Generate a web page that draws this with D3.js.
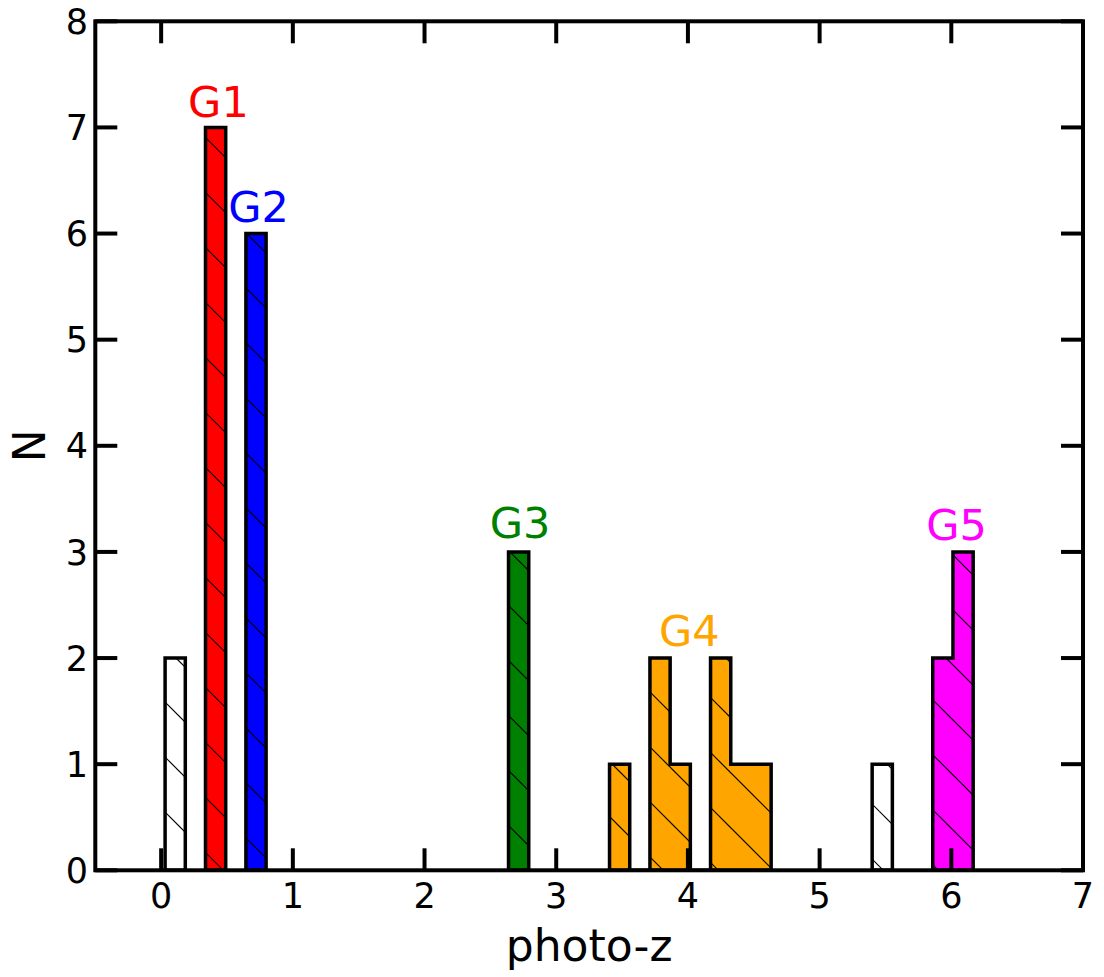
<!DOCTYPE html>
<html>
<head>
<meta charset="utf-8">
<script src="https://cdn.jsdelivr.net/npm/d3@7"></script>
<style>
  html, body { margin: 0; padding: 0; background: #fff; }
  svg { display: block; }
  text { font-family: "DejaVu Sans", sans-serif; }
</style>
</head>
<body>
<svg id="chart" width="1104" height="977"></svg>
<script>
// Histogram binning of photometric redshifts
const binStart = 0.03;
const binWidth = 0.1534;

// Each series: the bin indices it occupies and the counts in those bins
const seriesBins   = [[0], [2], [4], [17], [22, 23, 24, 25, 26, 27, 28, 29], [35], [38, 39]];
const seriesCounts = [[2], [7], [6], [3],  [1, 0, 2, 1, 0, 2, 1, 1],          [1],  [2, 3]];
const seriesColors = ["#ffffff", "#ff0000", "#0000ff", "#008000", "#ffa500", "#ffffff", "#ff00ff"];

// Group labels (data coordinates of the text baseline centre)
const groupNames  = ["G1", "G2", "G3", "G4", "G5"];
const groupColors = ["#ff0000", "#0000ff", "#008000", "#ffa500", "#ff00ff"];
const groupLabelX = [0.435, 0.74, 2.725, 4.01, 6.04];
const groupLabelY = [7.1, 6.11, 3.13, 2.11, 3.11];

const xTicks = [0, 1, 2, 3, 4, 5, 6, 7];
const yTicks = [0, 1, 2, 3, 4, 5, 6, 7, 8];

const svg = d3.select("#chart");
const plot = { left: 95.3, right: 1083, top: 21.3, bottom: 870.3 };

const x = d3.scaleLinear().domain([-0.5, 7]).range([plot.left, plot.right]);
const y = d3.scaleLinear().domain([0, 8]).range([plot.bottom, plot.top]);

svg.append("rect").attr("width", 1104).attr("height", 977).attr("fill", "#fff");

// Diagonal hatch, tiled in page coordinates
const defs = svg.append("defs");
const pat = defs.append("pattern")
  .attr("id", "hatch")
  .attr("patternUnits", "userSpaceOnUse")
  .attr("x", 0).attr("y", 0)
  .attr("width", 55).attr("height", 55);
[[-5, 37, 20, 62], [-5, -18, 70, 57]].forEach(([x1, y1, x2, y2]) => {
  pat.append("line")
    .attr("x1", x1).attr("y1", y1).attr("x2", x2).attr("y2", y2)
    .attr("stroke", "#000").attr("stroke-width", 1.2);
});

// Step outline for a run of consecutive bins
function stepPoints(bins, counts) {
  const pts = [];
  const edge = i => binStart + i * binWidth;
  pts.push([edge(bins[0]), 0]);
  bins.forEach((b, i) => {
    pts.push([edge(b), counts[i]]);
    pts.push([edge(b + 1), counts[i]]);
  });
  pts.push([edge(bins[bins.length - 1] + 1), 0]);
  return pts;
}
const line = d3.line().x(d => x(d[0])).y(d => y(d[1]));

const bars = svg.append("g");
seriesBins.forEach((bins, i) => {
  const d = line(stepPoints(bins, seriesCounts[i])) + "Z";
  bars.append("path").attr("d", d).attr("fill", seriesColors[i]);
  bars.append("path").attr("d", d).attr("fill", "url(#hatch)");
  bars.append("path").attr("d", d)
    .attr("fill", "none").attr("stroke", "#000")
    .attr("stroke-width", 3.5).attr("stroke-linejoin", "miter");
});

// Group labels
svg.append("g").selectAll("text").data(groupNames).join("text")
  .attr("x", (d, i) => x(groupLabelX[i]))
  .attr("y", (d, i) => y(groupLabelY[i]))
  .attr("text-anchor", "middle")
  .attr("font-size", 43)
  .attr("fill", (d, i) => groupColors[i])
  .text(d => d);

// Inward ticks on all four sides
const tickLen = 22;
const axes = svg.append("g").attr("stroke", "#000").attr("stroke-width", 4);
xTicks.forEach(t => {
  axes.append("line").attr("x1", x(t)).attr("x2", x(t)).attr("y1", plot.bottom).attr("y2", plot.bottom - tickLen);
  axes.append("line").attr("x1", x(t)).attr("x2", x(t)).attr("y1", plot.top).attr("y2", plot.top + tickLen);
});
yTicks.forEach(t => {
  axes.append("line").attr("y1", y(t)).attr("y2", y(t)).attr("x1", plot.left).attr("x2", plot.left + tickLen);
  axes.append("line").attr("y1", y(t)).attr("y2", y(t)).attr("x1", plot.right).attr("x2", plot.right - tickLen);
});
axes.append("rect")
  .attr("x", plot.left).attr("y", plot.top)
  .attr("width", plot.right - plot.left).attr("height", plot.bottom - plot.top)
  .attr("fill", "none").attr("stroke-linejoin", "miter");

// Tick labels
svg.append("g").selectAll("text").data(xTicks).join("text")
  .attr("x", d => x(d)).attr("y", 908)
  .attr("text-anchor", "middle").attr("font-size", 35)
  .text(d => d);
svg.append("g").selectAll("text").data(yTicks).join("text")
  .attr("x", 88).attr("y", d => y(d)).attr("dy", "0.36em")
  .attr("text-anchor", "end").attr("font-size", 35)
  .text(d => d);

// Axis titles
svg.append("text")
  .attr("x", (plot.left + plot.right) / 2).attr("y", 961)
  .attr("text-anchor", "middle").attr("font-size", 44)
  .text("photo-z");
svg.append("text")
  .attr("transform", `translate(45,${(plot.top + plot.bottom) / 2}) rotate(-90)`)
  .attr("text-anchor", "middle").attr("font-size", 44)
  .text("N");
</script>
</body>
</html>
